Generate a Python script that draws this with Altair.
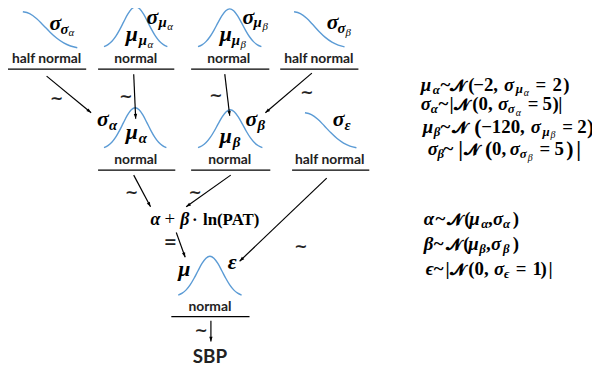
import math
import altair as alt
import pandas as pd

# ---------------- data ----------------
# bell-shaped icon profile (relative height), left tail -> peak -> right tail
NORMAL_PROFILE = [0.044, 0.091, 0.172, 0.295, 0.458, 0.644, 0.823, 0.952, 1.0,
                  0.952, 0.823, 0.644, 0.458, 0.295, 0.172, 0.091, 0.044]
# half-normal icon profile, peak -> tail
HALF_PROFILE = [1.0, 0.952, 0.823, 0.644, 0.458, 0.295, 0.172, 0.091, 0.044]

DIST_LABELS = ["half normal", "normal", "normal", "half normal",
               "normal", "normal", "half normal", "normal"]
CURVE_KINDS = ["half", "normal", "normal", "half",
               "normal", "normal", "half", "normal"]
OUTCOME = "SBP"
LINEAR_PREDICTOR = ["α", "+", "β", "·", "ln(PAT)"]

# ---------------- layout (pixel coordinates of the picture) ----------------
# curve boxes: x_left, x_right, y_top, y_bottom
CURVE_BOX = [(23, 78, 10, 48), (105, 169, 5, 47), (200, 264, 7, 47), (297, 348, 10, 47),
             (105, 168, 107, 149), (200, 265, 109, 149), (308, 360, 112, 149), (180, 244, 257, 298)]
LABEL_POS = [(47, 62), (137, 62), (231, 62), (322, 62),
             (137, 164), (232, 164), (333, 164), (212, 312)]
RULES = [(8, 87, 68), (99, 176, 68), (193, 272, 68), (283, 362, 68),
         (99, 177, 170), (193, 273, 170), (295, 373, 170), (173, 252, 318)]
ARROWS = [(47, 75, 92, 112), (135, 73, 137, 118), (227, 73, 232, 115), (315, 72, 268, 112),
          (135, 175, 152, 207), (233, 175, 188, 207), (330, 178, 242, 262),
          (178, 233, 187, 258), (213, 322, 213, 343)]
TILDES = [(57, 98), (127, 96), (218, 95), (310, 92), (133, 193), (197, 193), (304, 248), (203, 333)]

N = "𝓝"
# (text, x, baseline y, style)
PIECES = [
    # diagram symbols
    ("σ", 50, 28, "sym"), ("σ", 61, 32, "symsub"), ("α", 69, 34, "symss"),
    ("σ", 148, 22, "sym"), ("μ", 160, 25, "symsub"), ("α", 169, 28, "symss"),
    ("μ", 127, 40, "sym"), ("μ", 140, 44, "symsub"), ("α", 149, 47, "symss"),
    ("σ", 245, 22, "sym"), ("μ", 256, 25, "symsub"), ("β", 265, 28, "symss"),
    ("μ", 222, 40, "sym"), ("μ", 234, 44, "symsub"), ("β", 243, 47, "symss"),
    ("σ", 330, 27, "sym"), ("σ", 341, 31, "symsub"), ("β", 349, 34, "symss"),
    ("σ", 98, 125, "sym"), ("α", 110, 129, "symsub"),
    ("μ", 127, 139, "sym"), ("α", 140, 143, "symsub"),
    ("σ", 248, 125, "sym"), ("β", 260, 129, "symsub"),
    ("μ", 222, 143, "sym"), ("β", 235, 147, "symsub"),
    ("σ", 336, 125, "sym"), ("ε", 348, 129, "symsub"),
    ("μ", 180, 277, "sym"), ("ε", 230, 270, "sym"),
    (LINEAR_PREDICTOR[0], 152, 225, "exit"), (LINEAR_PREDICTOR[1], 166, 225, "exrm"),
    (LINEAR_PREDICTOR[2], 182, 225, "exit"), (LINEAR_PREDICTOR[3], 194, 225, "exb"),
    (LINEAR_PREDICTOR[4], 205, 225, "exb"),
    # right-hand equations
    ("μ", 425, 90, "eq"), ("α", 437, 93, "eqs"), ("~", 445, 90, "eqr"), (N, 455, 90, "eqN"),
    ("(", 473, 90, "eqr"), ("−2,", 478, 90, "eqr"), ("σ", 509, 90, "eq"), ("μ", 521, 92, "eqs"),
    ("α", 529, 95, "eqss"), ("=", 541, 90, "eqr"), ("2", 558, 90, "eqr"), (")", 569, 90, "eqr"),

    ("σ", 425, 109, "eq"), ("α", 435, 112, "eqs"), ("~", 443, 109, "eqr"), ("|", 454, 109, "eqr"),
    (N, 459, 109, "eqN"), ("(0,", 477, 109, "eqr"), ("σ", 503, 109, "eq"), ("σ", 513, 112, "eqs"),
    ("α", 521, 115, "eqss"), ("=", 533, 109, "eqr"), ("5", 548, 109, "eqr"), (")", 558, 109, "eqr"),
    ("|", 564, 109, "eqr"),

    ("μ", 427, 132, "eq"), ("β", 438, 135, "eqs"), ("~", 445, 132, "eqr"), (N, 457, 132, "eqN"),
    ("(", 479, 133, "eqbig"), ("−120,", 486, 132, "eqr"), ("σ", 536, 132, "eq"), ("μ", 548, 135, "eqs"),
    ("β", 556, 138, "eqss"), ("=", 568, 132, "eqr"), ("2", 583, 132, "eqr"), (")", 593, 133, "eqbig"),

    ("σ", 432, 155, "eq"), ("β", 442, 158, "eqs"), ("~", 448, 155, "eqr"), ("|", 463, 156, "eqbig"),
    (N, 469, 155, "eqN"), ("(", 490, 156, "eqbig"), ("0,", 497, 155, "eqr"), ("σ", 515, 155, "eq"),
    ("σ", 525, 158, "eqs"), ("β", 533, 161, "eqss"), ("=", 545, 155, "eqr"), ("5", 560, 155, "eqr"),
    (")", 572, 156, "eqbig"), ("|", 582, 156, "eqbig"),

    ("α", 428, 225, "eq"), ("~", 440, 225, "eqr"), (N, 452, 225, "eqN"), ("(", 469, 225, "eqr"),
    ("μ", 474, 225, "eq"), ("α", 486, 228, "eqs"), (",", 493, 225, "eqr"), ("σ", 498, 225, "eq"),
    ("α", 508, 228, "eqs"), (")", 518, 225, "eqr"),

    ("β", 428, 251, "eq"), ("~", 438, 251, "eqr"), (N, 450, 251, "eqN"), ("(", 468, 251, "eqr"),
    ("μ", 473, 251, "eq"), ("β", 484, 254, "eqs"), (",", 491, 251, "eqr"), ("σ", 496, 251, "eq"),
    ("β", 508, 254, "eqs"), (")", 518, 251, "eqr"),

    ("ϵ", 430, 276, "eq"), ("~", 438, 276, "eqr"), ("|", 450, 276, "eqr"), (N, 455, 276, "eqN"),
    ("(0,", 473, 276, "eqr"), ("σ", 499, 276, "eq"), ("ϵ", 509, 279, "eqs"), ("=", 521, 276, "eqr"),
    ("1", 538, 276, "eqr"), (")", 546, 276, "eqr"), ("|", 554, 276, "eqr"),
]

SERIF = "Liberation Serif"
STYLES = {
    "sym":   dict(font=SERIF, fontSize=22, fontStyle="italic", fontWeight="bold"),
    "symsub": dict(font=SERIF, fontSize=15, fontStyle="italic", fontWeight="bold"),
    "symss": dict(font=SERIF, fontSize=11, fontStyle="italic", fontWeight="normal"),
    "exit":  dict(font=SERIF, fontSize=18, fontStyle="italic", fontWeight="bold"),
    "exrm":  dict(font=SERIF, fontSize=19, fontStyle="normal", fontWeight="normal"),
    "exb":   dict(font=SERIF, fontSize=17, fontStyle="normal", fontWeight="bold"),
    "eq":    dict(font=SERIF, fontSize=19, fontStyle="italic", fontWeight="bold"),
    "eqN":   dict(font=SERIF, fontSize=16, fontStyle="normal", fontWeight="bold"),
    "eqr":   dict(font=SERIF, fontSize=19, fontStyle="normal", fontWeight="bold"),
    "eqbig": dict(font=SERIF, fontSize=22, fontStyle="normal", fontWeight="bold"),
    "eqs":   dict(font=SERIF, fontSize=13, fontStyle="italic", fontWeight="bold"),
    "eqss":  dict(font=SERIF, fontSize=10, fontStyle="italic", fontWeight="normal"),
}

# ---------------- build tables ----------------
curve_rows = []
for i, (kind, (xl, xr, yt, yb)) in enumerate(zip(CURVE_KINDS, CURVE_BOX)):
    prof = NORMAL_PROFILE if kind == "normal" else HALF_PROFILE
    n = len(prof)
    for j, h in enumerate(prof):
        curve_rows.append({"id": i, "o": j,
                           "x": xl + (xr - xl) * j / (n - 1),
                           "y": yb - h * (yb - yt)})
curves = pd.DataFrame(curve_rows)

rules = pd.DataFrame([{"x": a, "x2": b, "y": y, "y2": y} for a, b, y in RULES])
shafts = pd.DataFrame([{"x": a, "y": b, "x2": c, "y2": d} for a, b, c, d in ARROWS])
heads = pd.DataFrame([{"x": c, "y": d,
                       "angle": math.degrees(math.atan2(c - a, -(d - b))) % 360}
                      for a, b, c, d in ARROWS])
labels = pd.DataFrame([{"x": x, "y": y, "t": t} for t, (x, y) in zip(DIST_LABELS, LABEL_POS)])
tildes = pd.DataFrame([{"x": x, "y": y, "t": "~"} for x, y in TILDES] + [{"x": 172, "y": 243, "t": "="}])
sbp = pd.DataFrame([{"x": 212, "y": 365, "t": OUTCOME}])
pieces = pd.DataFrame([{"t": t, "x": x, "y": y, "s": s} for t, x, y, s in PIECES])

W, H = 590, 358
X = alt.X("x:Q", scale=alt.Scale(domain=[8, 8 + W], nice=False, zero=False), axis=None)
Y = alt.Y("y:Q", scale=alt.Scale(domain=[8, 8 + H], nice=False, zero=False, reverse=True), axis=None)

layers = []
layers.append(alt.Chart(curves).mark_line(color="#5B9BD5", strokeWidth=1.4, interpolate="monotone")
              .encode(x=X, y=Y, detail="id:N", order="o:Q"))
layers.append(alt.Chart(rules).mark_rule(color="black", strokeWidth=1.3)
              .encode(x=X, y=Y, x2="x2:Q", y2="y2:Q"))
layers.append(alt.Chart(shafts).mark_rule(color="black", strokeWidth=1.2)
              .encode(x=X, y=Y, x2="x2:Q", y2="y2:Q"))
layers.append(alt.Chart(heads).mark_point(shape="M0,0 L0.6,1.7 L-0.6,1.7 Z", filled=True,
                                           color="black", opacity=1, size=32, strokeWidth=0)
              .encode(x=X, y=Y, angle=alt.Angle("angle:Q", scale=None)))
layers.append(alt.Chart(labels).mark_text(font="Lato", fontSize=14, fontWeight="bold", color="#222",
                                           align="center", baseline="alphabetic")
              .encode(x=X, y=Y, text="t:N"))
layers.append(alt.Chart(tildes).mark_text(font="DejaVu Sans", fontSize=16, fontWeight="bold", color="#222",
                                           align="center", baseline="middle")
              .encode(x=X, y=Y, text="t:N"))
layers.append(alt.Chart(sbp).mark_text(font="Lato", fontSize=19, fontWeight="bold", color="#222",
                                        align="center", baseline="alphabetic")
              .encode(x=X, y=Y, text="t:N"))
for s, st in STYLES.items():
    sub = pieces[pieces["s"] == s]
    layers.append(alt.Chart(sub).mark_text(align="left", baseline="alphabetic", color="black", **st)
                  .encode(x=X, y=Y, text="t:N"))

chart = (alt.layer(*layers)
         .properties(width=W, height=H, padding=0, autosize=alt.AutoSizeParams(type="none"))
         .configure_view(stroke=None))
chart.save("out.html", embed_options={"renderer": "svg", "actions": False})
